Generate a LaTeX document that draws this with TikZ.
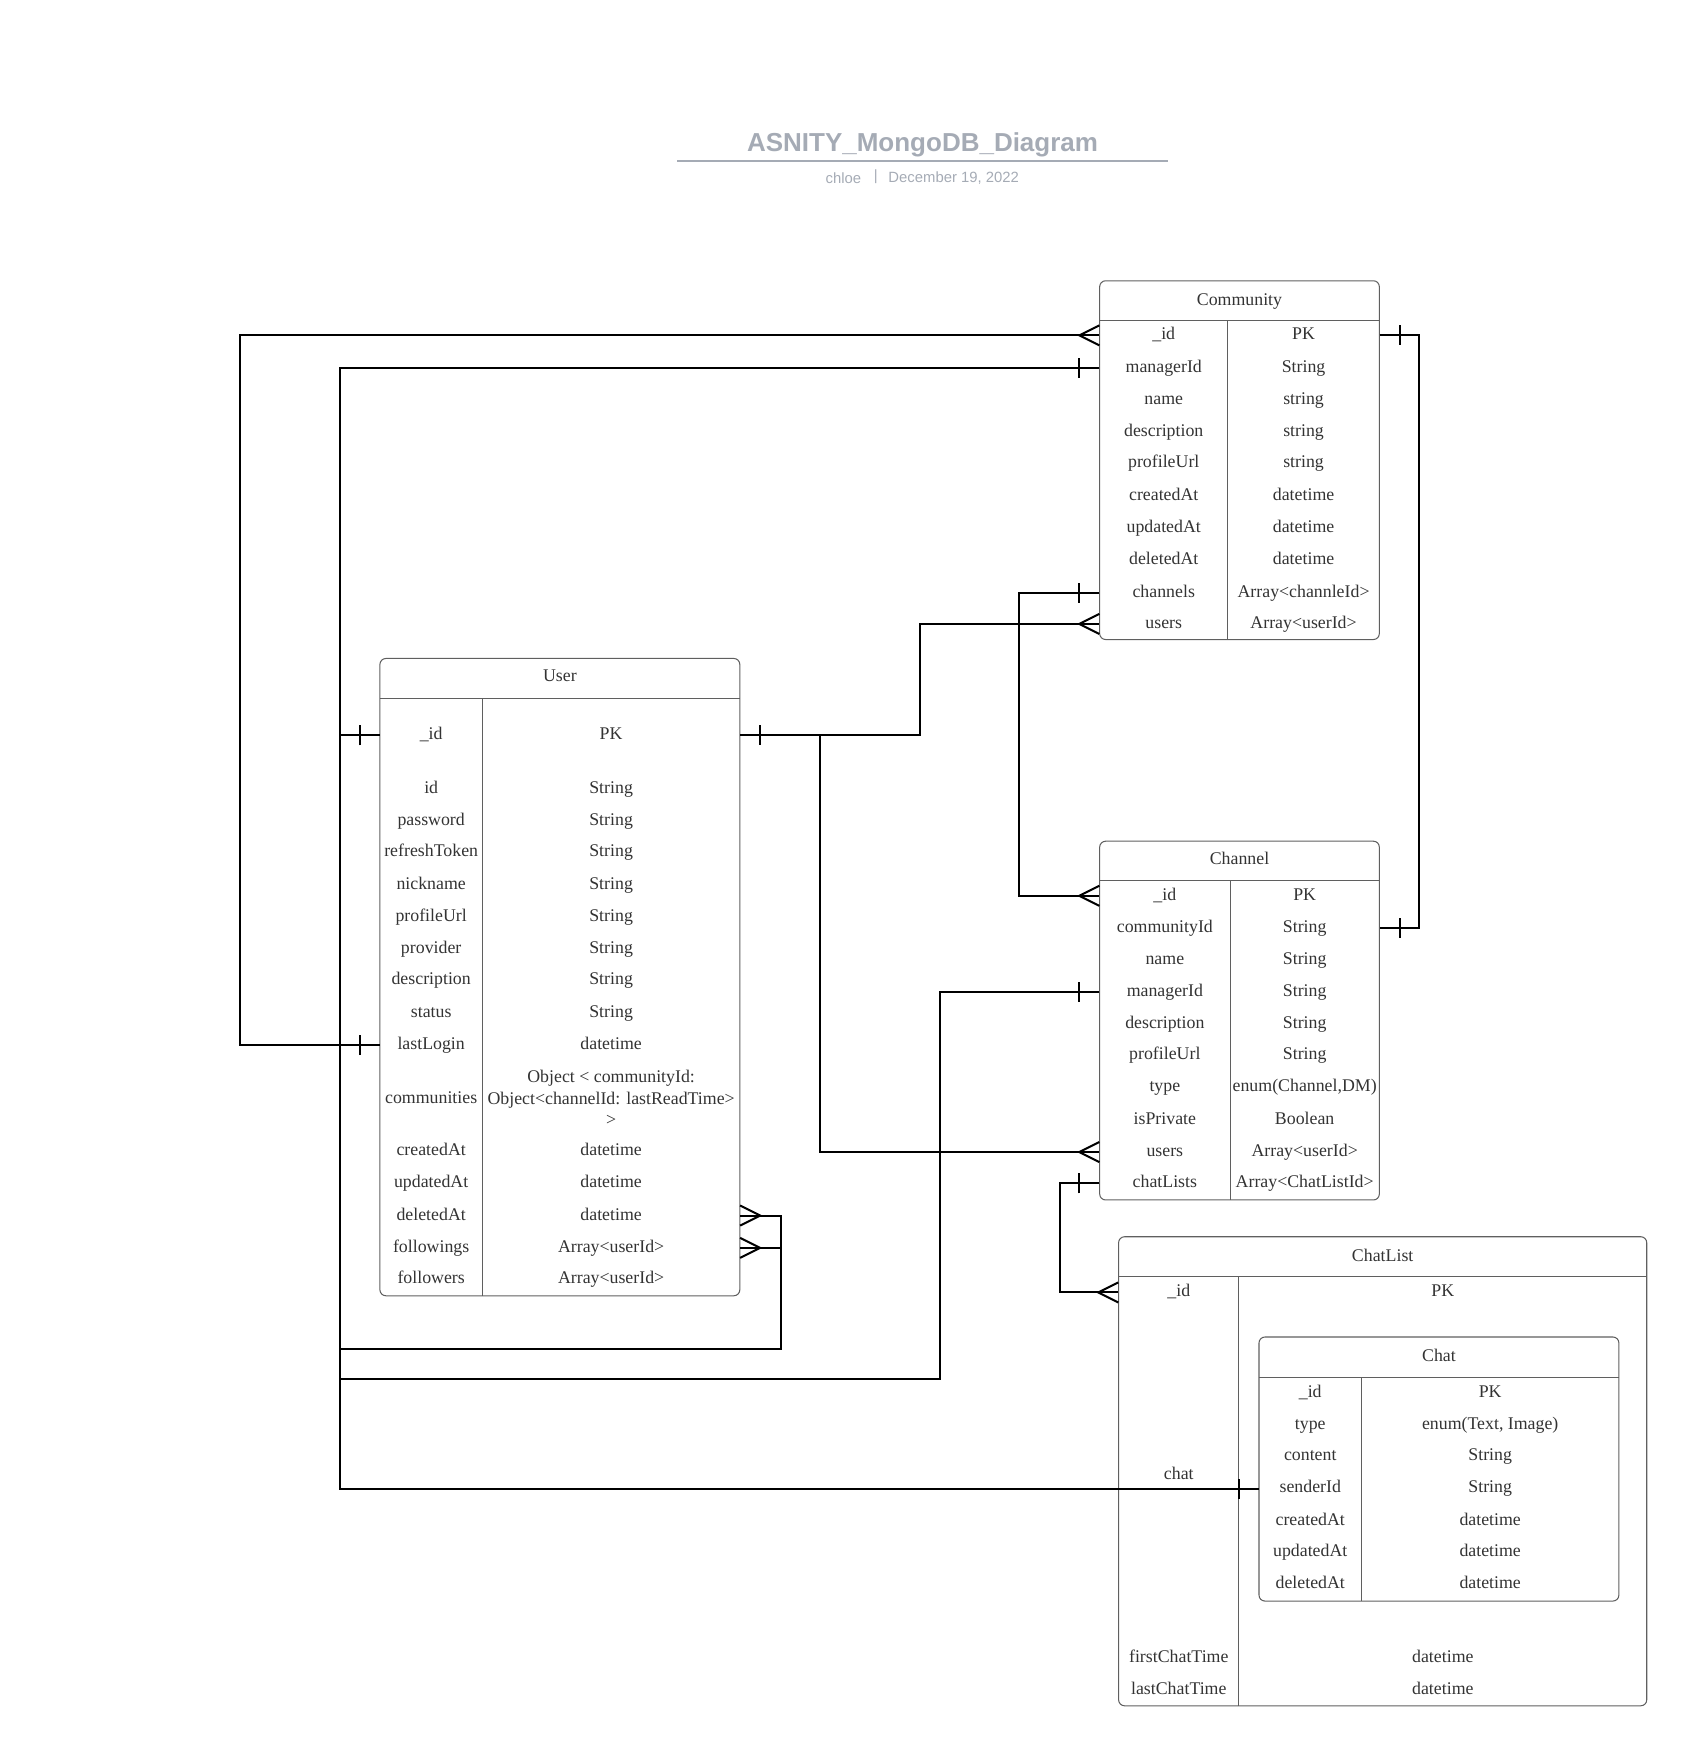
\documentclass[tikz,border=0pt]{standalone}
\usepackage{fontspec}
\setmainfont{Liberation Serif}
\newfontfamily\ttlfont{Liberation Sans}
\usepackage{tikz}
\definecolor{ttlgray}{HTML}{A5ABB5}
\definecolor{txtgray}{HTML}{333333}
\definecolor{brdgray}{HTML}{5F5F5F}

\begin{document}
\begin{tikzpicture}[x=0.75pt,y=0.75pt,yscale=-1,xscale=1,
  tbl/.style={draw=brdgray,line width=0.7pt},
  fld/.style={inner sep=0pt,text=txtgray,font=\fontsize{12}{14.6}\selectfont,text height=8.5pt,text depth=2.5pt,yshift=-1.5pt},
  hdr/.style={fld},
  ttl/.style={text=ttlgray,yshift=-1.5pt},
  comN/.style={fld,minimum width=86.25pt},
  comT/.style={fld,minimum width=102pt},
  usrN/.style={fld,minimum width=69pt},
  usrT/.style={fld,minimum width=173.25pt},
  chnN/.style={fld,minimum width=87.75pt},
  chnT/.style={fld,minimum width=100.5pt},
  clN/.style={fld,minimum width=81pt},
  clT/.style={fld,minimum width=274.5pt},
  chtN/.style={fld,minimum width=69pt},
  chtT/.style={fld,minimum width=173.25pt},
  rel/.style={line width=1.35pt,black},
  many/.pic={\draw[rel] (0,-9) -- (-18,0) -- (0,9);},
  one/.pic={\draw[rel] (-18,-9) -- (-18,9);}
]
\path[use as bounding box] (0,0) rectangle (1515,1568);

% Title
\node[ttl,font=\ttlfont\bfseries\fontsize{17.5}{20}\selectfont] (title) at (828,128) {ASNITY\_MongoDB\_Diagram};
\draw[ttlgray,line width=1pt] (608,144.5) -- (1048,144.5);
\node[ttl,font=\ttlfont\fontsize{10}{12}\selectfont] (author) at (757,158) {chloe};
\node[ttl,font=\ttlfont\fontsize{10}{12}\selectfont] (sep) at (786,157) {|};
\node[ttl,font=\ttlfont\fontsize{10}{12}\selectfont] (date) at (856,158) {December 19, 2022};

%Shape: Table Community
\draw[tbl,rounded corners=4pt] (987,252) rectangle (1238,574);
\draw[tbl] (987,288) -- (1238,288);
\draw[tbl] (1102,288) -- (1102,574);
% Text Node
\node[hdr] (com) at (1112.5,268) {Community};
\node[comN] (com-id) at (1044.5,299) {\_id};
\node[comT] (com-id-t) at (1170,299) {PK};
\node[comN] (com-mgr) at (1044.5,328) {managerId};
\node[comT] (com-mgr-t) at (1170,328) {String};
\node[comN] (com-name) at (1044.5,357) {name};
\node[comT] (com-name-t) at (1170,357) {string};
\node[comN] (com-desc) at (1044.5,386) {description};
\node[comT] (com-desc-t) at (1170,386) {string};
\node[comN] (com-url) at (1044.5,414) {profileUrl};
\node[comT] (com-url-t) at (1170,414) {string};
\node[comN] (com-cre) at (1044.5,443) {createdAt};
\node[comT] (com-cre-t) at (1170,443) {datetime};
\node[comN] (com-upd) at (1044.5,472) {updatedAt};
\node[comT] (com-upd-t) at (1170,472) {datetime};
\node[comN] (com-del) at (1044.5,501) {deletedAt};
\node[comT] (com-del-t) at (1170,501) {datetime};
\node[comN] (com-chn) at (1044.5,530) {channels};
\node[comT] (com-chn-t) at (1170,530) {Array<channleId>};
\node[comN] (com-users) at (1044.5,558) {users};
\node[comT] (com-users-t) at (1170,558) {Array<userId>};

%Shape: Table User
\draw[tbl,rounded corners=4pt] (341,591) rectangle (664,1163);
\draw[tbl] (341,627) -- (664,627);
\draw[tbl] (433,627) -- (433,1163);
% Text Node
\node[hdr] (usr) at (502.5,606) {User};
\node[usrN] (usr-id) at (387,658) {\_id};
\node[usrT] (usr-id-t) at (548.5,658) {PK};
\node[usrN] (usr-uid) at (387,706) {id};
\node[usrT] (usr-uid-t) at (548.5,706) {String};
\node[usrN] (usr-pw) at (387,735) {password};
\node[usrT] (usr-pw-t) at (548.5,735) {String};
\node[usrN] (usr-tok) at (387,763) {refreshToken};
\node[usrT] (usr-tok-t) at (548.5,763) {String};
\node[usrN] (usr-nick) at (387,792) {nickname};
\node[usrT] (usr-nick-t) at (548.5,792) {String};
\node[usrN] (usr-url) at (387,821) {profileUrl};
\node[usrT] (usr-url-t) at (548.5,821) {String};
\node[usrN] (usr-prov) at (387,850) {provider};
\node[usrT] (usr-prov-t) at (548.5,850) {String};
\node[usrN] (usr-desc) at (387,878) {description};
\node[usrT] (usr-desc-t) at (548.5,878) {String};
\node[usrN] (usr-stat) at (387,907) {status};
\node[usrT] (usr-stat-t) at (548.5,907) {String};
\node[usrN] (usr-login) at (387,936) {lastLogin};
\node[usrT] (usr-login-t) at (548.5,936) {datetime};
\node[usrN] (usr-com) at (387,984) {communities};
\node[inner sep=0pt,text=txtgray,font=\fontsize{12}{14.6}\selectfont,align=center,yshift=-1.5pt] (usr-com-t) at (548.5,983.5) {Object < communityId:\\Object<channelId: lastReadTime>\\>};
\node[usrN] (usr-cre) at (387,1031) {createdAt};
\node[usrT] (usr-cre-t) at (548.5,1031) {datetime};
\node[usrN] (usr-upd) at (387,1060) {updatedAt};
\node[usrT] (usr-upd-t) at (548.5,1060) {datetime};
\node[usrN] (usr-del) at (387,1089) {deletedAt};
\node[usrT] (usr-del-t) at (548.5,1089) {datetime};
\node[usrN] (usr-fing) at (387,1118) {followings};
\node[usrT] (usr-fing-t) at (548.5,1118) {Array<userId>};
\node[usrN] (usr-fers) at (387,1146) {followers};
\node[usrT] (usr-fers-t) at (548.5,1146) {Array<userId>};

%Shape: Table Channel
\draw[tbl,rounded corners=4pt] (987,755) rectangle (1238,1077);
\draw[tbl] (987,790) -- (1238,790);
\draw[tbl] (1104,790) -- (1104,1077);
% Text Node
\node[hdr] (chn) at (1112.5,770) {Channel};
\node[chnN] (chn-id) at (1045.5,802) {\_id};
\node[chnT] (chn-id-t) at (1171,802) {PK};
\node[chnN] (chn-cid) at (1045.5,831) {communityId};
\node[chnT] (chn-cid-t) at (1171,831) {String};
\node[chnN] (chn-name) at (1045.5,860) {name};
\node[chnT] (chn-name-t) at (1171,860) {String};
\node[chnN] (chn-mgr) at (1045.5,888) {managerId};
\node[chnT] (chn-mgr-t) at (1171,888) {String};
\node[chnN] (chn-desc) at (1045.5,917) {description};
\node[chnT] (chn-desc-t) at (1171,917) {String};
\node[chnN] (chn-url) at (1045.5,945) {profileUrl};
\node[chnT] (chn-url-t) at (1171,945) {String};
\node[chnN] (chn-type) at (1045.5,974) {type};
\node[chnT] (chn-type-t) at (1171,974) {enum(Channel,DM)};
\node[chnN] (chn-priv) at (1045.5,1003) {isPrivate};
\node[chnT] (chn-priv-t) at (1171,1003) {Boolean};
\node[chnN] (chn-users) at (1045.5,1032) {users};
\node[chnT] (chn-users-t) at (1171,1032) {Array<userId>};
\node[chnN] (chn-chl) at (1045.5,1060) {chatLists};
\node[chnT] (chn-chl-t) at (1171,1060) {Array<ChatListId>};

%Shape: Table ChatList
\draw[tbl,rounded corners=4pt] (1004,1110) rectangle (1478,1531);
\draw[tbl] (1004,1146) -- (1478,1146);
\draw[tbl] (1112,1146) -- (1112,1531);
% Text Node
\node[hdr] (cl) at (1241,1126) {ChatList};
\node[clN] (cl-id) at (1058,1158) {\_id};
\node[clT] (cl-id-t) at (1295,1158) {PK};
\node[clN] (cl-chat) at (1058,1322) {chat};
\node[clN] (cl-first) at (1058,1486) {firstChatTime};
\node[clT] (cl-first-t) at (1295,1486) {datetime};
\node[clN] (cl-last) at (1058,1515) {lastChatTime};
\node[clT] (cl-last-t) at (1295,1515) {datetime};

%Shape: Table Chat
\draw[tbl,rounded corners=4pt] (1130,1200) rectangle (1453,1437);
\draw[tbl] (1130,1236) -- (1453,1236);
\draw[tbl] (1222,1236) -- (1222,1437);
% Text Node
\node[hdr] (cht) at (1291.5,1216) {Chat};
\node[chtN] (cht-id) at (1176,1248) {\_id};
\node[chtT] (cht-id-t) at (1337.5,1248) {PK};
\node[chtN] (cht-type) at (1176,1277) {type};
\node[chtT] (cht-type-t) at (1337.5,1277) {enum(Text, Image)};
\node[chtN] (cht-cont) at (1176,1305) {content};
\node[chtT] (cht-cont-t) at (1337.5,1305) {String};
\node[chtN] (cht-sender) at (1176,1334) {senderId};
\node[chtT] (cht-sender-t) at (1337.5,1334) {String};
\node[chtN] (cht-cre) at (1176,1363) {createdAt};
\node[chtT] (cht-cre-t) at (1337.5,1363) {datetime};
\node[chtN] (cht-upd) at (1176,1391) {updatedAt};
\node[chtT] (cht-upd-t) at (1337.5,1391) {datetime};
\node[chtN] (cht-del) at (1176,1420) {deletedAt};
\node[chtT] (cht-del-t) at (1337.5,1420) {datetime};

% Trunk positions
\coordinate (xA) at (215,0);
\coordinate (xB) at (305,0);
\coordinate (xC) at (701,0);
\coordinate (xD) at (736,0);
\coordinate (xE) at (826,0);
\coordinate (xF) at (844,0);
\coordinate (xG) at (915,0);
\coordinate (xH) at (951,0);
\coordinate (xI) at (1274,0);
\coordinate (yA) at (0,1211);
\coordinate (yB) at (0,1238);

%Connector: Community _id -- User lastLogin
\draw[rel] (com-id.west) -- (com-id.west -| xA) |- (usr-login.west);
\pic at (com-id.west) {many};
\pic at (usr-login.west) {one};
%Connector: User _id -- Community managerId -- Chat senderId
\draw[rel] (com-mgr.west) -- (com-mgr.west -| xB) |- (cht-sender.west);
\pic at (com-mgr.west) {one};
\pic at (cht-sender.west) {one};
\draw[rel] (usr-id.west) -- (usr-id.west -| xB);
\pic at (usr-id.west) {one};
%Connector: followings / followers
\draw[rel] (usr-del-t.east) -- (usr-del-t.east -| xC) -- (xC |- yA) -- (xB |- yA);
\draw[rel] (usr-fing-t.east) -- (usr-fing-t.east -| xC);
\pic[rotate=180] at (usr-del-t.east) {many};
\pic[rotate=180] at (usr-fing-t.east) {many};
%Connector: Channel managerId
\draw[rel] (chn-mgr.west) -- (chn-mgr.west -| xF) -- (xF |- yB) -- (xB |- yB);
\pic at (chn-mgr.west) {one};
%Connector: User _id -- Community users / Channel users
\draw[rel] (usr-id-t.east) -- (usr-id-t.east -| xE) |- (com-users.west);
\draw[rel] (usr-id-t.east -| xD) |- (chn-users.west);
\pic[rotate=180] at (usr-id-t.east) {one};
\pic at (com-users.west) {many};
\pic at (chn-users.west) {many};
%Connector: Community channels -- Channel _id
\draw[rel] (com-chn.west) -- (com-chn.west -| xG) |- (chn-id.west);
\pic at (com-chn.west) {one};
\pic at (chn-id.west) {many};
%Connector: Community _id -- Channel communityId
\draw[rel] (com-id-t.east) -- (com-id-t.east -| xI) |- (chn-cid-t.east);
\pic[rotate=180] at (com-id-t.east) {one};
\pic[rotate=180] at (chn-cid-t.east) {one};
%Connector: Channel chatLists -- ChatList _id
\draw[rel] (chn-chl.west) -- (chn-chl.west -| xH) |- (cl-id.west);
\pic at (chn-chl.west) {one};
\pic at (cl-id.west) {many};

\end{tikzpicture}
\end{document}
